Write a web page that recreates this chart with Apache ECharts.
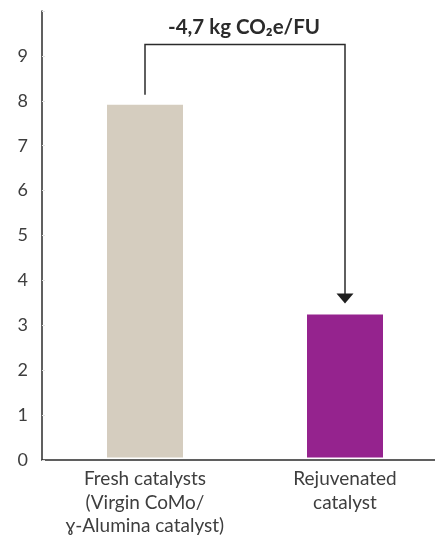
<!DOCTYPE html>
<html>
<head>
<meta charset="utf-8">
<script src="https://cdn.jsdelivr.net/npm/echarts@6/dist/echarts.min.js"></script>
<style>
  html, body { margin: 0; padding: 0; background: #fff; }
  #chart { width: 435px; height: 538px; }
</style>
</head>
<body>
<div id="chart"></div>
<script>
// Carbon footprint per functional unit (kg CO2e/FU)
const categories = [
  'Fresh catalysts\n(Virgin CoMo/\n\u0263-Alumina catalyst)',
  'Rejuvenated\ncatalyst'
];
const values = [7.9, 3.2];
const barColors = ['#d5cdbf', '#95238e'];
const yTicks = [0, 1, 2, 3, 4, 5, 6, 7, 8, 9];
const deltaLabel = '-4,7 kg CO\u2082e/FU';

const FONT = 'Lato, "Open Sans", "Noto Sans", sans-serif';
const AXIS_COLOR = '#2b2b2b';
const chart = echarts.init(document.getElementById('chart'), null, { renderer: 'canvas' });

chart.setOption({
  animation: false,
  // grid 0: frame with the axis lines and value labels
  // grid 1: the bars, categories placed at the ends of the band
  grid: [
    { left: 42, right: 0, top: 11, bottom: 78 },
    { left: 145, width: 200, top: 11, bottom: 78 }
  ],
  xAxis: [
    {
      gridIndex: 0, type: 'value', min: 0, max: 1,
      axisLine: { show: true, lineStyle: { color: AXIS_COLOR, width: 1.5 } },
      axisTick: { show: false }, axisLabel: { show: false }, splitLine: { show: false }
    },
    {
      gridIndex: 1, type: 'category', data: categories, boundaryGap: false,
      axisLine: { show: false }, axisTick: { show: false },
      axisLabel: {
        color: '#3e3e3e', fontSize: 19, fontFamily: FONT,
        lineHeight: 23.5, margin: 10, interval: 0
      }
    }
  ],
  yAxis: [
    {
      gridIndex: 0, type: 'value', min: 0, max: 10, interval: 1,
      splitLine: { show: false },
      axisLine: { show: true, lineStyle: { color: AXIS_COLOR, width: 1.5 } },
      axisTick: { show: true, inside: true, length: 3, lineStyle: { color: '#e2e2e2' } },
      axisLabel: {
        color: '#3e3e3e', fontSize: 18, fontFamily: FONT, margin: 14,
        formatter: v => (yTicks.indexOf(v) >= 0 ? String(v) : '')
      }
    },
    {
      gridIndex: 1, type: 'value', min: 0, max: 10, interval: 1, show: false
    }
  ],
  series: [{
    type: 'bar',
    xAxisIndex: 1, yAxisIndex: 1,
    barWidth: 76,
    clip: false,
    data: values.map((v, i) => ({ value: v, itemStyle: { color: barColors[i] } }))
  }]
});

// Bracket with arrow from the fresh-catalyst bar down to the rejuvenated bar
const p0 = chart.convertToPixel({ seriesIndex: 0 }, [0, values[0]]);
const p1 = chart.convertToPixel({ seriesIndex: 0 }, [1, values[1]]);
const topY = chart.convertToPixel({ yAxisIndex: 1 }, 9.25);
const tipY = p1[1] - 11;
chart.setOption({
  graphic: [
    {
      type: 'polyline',
      shape: { points: [[p0[0], p0[1] - 10], [p0[0], topY], [p1[0], topY], [p1[0], tipY - 8]] },
      style: { stroke: AXIS_COLOR, lineWidth: 1.5, fill: null }
    },
    {
      type: 'polygon',
      shape: { points: [[p1[0] - 8.5, tipY - 10], [p1[0] + 8.5, tipY - 10], [p1[0], tipY]] },
      style: { fill: '#1e1e1e' }
    },
    {
      type: 'text',
      x: (p0[0] + p1[0]) / 2 - 1,
      y: topY - 17,
      style: {
        text: deltaLabel,
        fill: '#2b2b2b',
        font: 'bold 20.5px ' + FONT,
        align: 'center',
        verticalAlign: 'middle'
      }
    }
  ]
});
</script>
</body>
</html>
